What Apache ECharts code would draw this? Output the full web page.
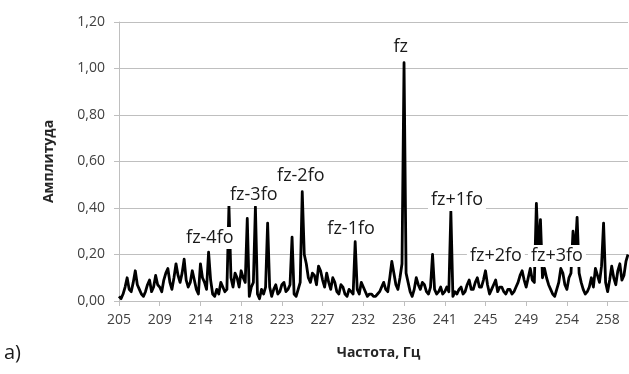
<!DOCTYPE html>
<html><head><meta charset="utf-8">
<script src="https://cdn.jsdelivr.net/npm/echarts@6/dist/echarts.min.js"></script>
<style>html,body{margin:0;padding:0;background:#fff}#c{width:629px;height:374px}</style>
</head><body><div id="c"></div>
<script>
// tick labels (every 20th sample), frequency in Hz
const tickLabels = ["205","209","214","218","223","227","232","236","241","245","249","254","258"];
// amplitude samples (251 points, ~0.22 Hz step)
const amplitude = [
 0.02,0.01,0.03,0.06,0.10,0.05,0.04,0.08,0.13,0.07,
 0.05,0.03,0.02,0.04,0.07,0.09,0.04,0.06,0.11,0.07,
 0.06,0.04,0.09,0.12,0.14,0.08,0.05,0.10,0.16,0.11,
 0.08,0.12,0.18,0.09,0.06,0.08,0.13,0.09,0.05,0.03,
 0.16,0.10,0.08,0.05,0.21,0.09,0.03,0.02,0.05,0.03,
 0.08,0.06,0.04,0.05,0.41,0.10,0.06,0.12,0.10,0.06,
 0.13,0.10,0.08,0.355,0.02,0.06,0.08,0.405,0.03,0.01,
 0.05,0.03,0.06,0.335,0.06,0.02,0.05,0.07,0.03,0.04,
 0.07,0.08,0.04,0.05,0.07,0.275,0.03,0.02,0.05,0.08,
 0.47,0.20,0.16,0.10,0.08,0.12,0.11,0.07,0.15,0.13,
 0.09,0.06,0.12,0.08,0.05,0.10,0.08,0.04,0.03,0.07,
 0.06,0.03,0.02,0.05,0.04,0.03,0.255,0.05,0.03,0.08,
 0.06,0.04,0.02,0.03,0.03,0.02,0.02,0.03,0.04,0.06,
 0.08,0.05,0.04,0.10,0.17,0.12,0.07,0.05,0.10,0.16,
 1.025,0.12,0.08,0.04,0.02,0.05,0.10,0.07,0.05,0.08,
 0.07,0.04,0.03,0.06,0.20,0.05,0.03,0.04,0.06,0.03,
 0.04,0.06,0.04,0.385,0.02,0.04,0.03,0.05,0.06,0.03,
 0.04,0.07,0.09,0.05,0.05,0.08,0.10,0.06,0.06,0.09,
 0.13,0.07,0.03,0.05,0.07,0.09,0.04,0.06,0.06,0.04,
 0.03,0.05,0.05,0.03,0.04,0.06,0.08,0.11,0.13,0.09,
 0.06,0.10,0.14,0.09,0.08,0.42,0.20,0.35,0.10,0.14,
 0.10,0.07,0.05,0.03,0.02,0.05,0.08,0.14,0.12,0.07,
 0.05,0.10,0.12,0.30,0.20,0.36,0.12,0.08,0.05,0.03,
 0.04,0.06,0.10,0.06,0.14,0.11,0.08,0.15,0.335,0.08,
 0.04,0.09,0.15,0.10,0.07,0.13,0.16,0.09,0.11,0.17,
 0.20
];
// peak annotations: text, sample position, amplitude position
const annoText = ["fz","fz-4fo","fz-3fo","fz-2fo","fz-1fo","fz+1fo","fz+2fo","fz+3fo"];
const annoX    = [138.4, 44.6, 66.2, 89.3, 114.0, 166.0, 185.1, 215.1];
const annoY    = [1.092, 0.271, 0.456, 0.538, 0.31, 0.434, 0.194, 0.194];

const chart = echarts.init(document.getElementById('c'), null, {renderer:'canvas'});
const font = '"Open Sans", "Noto Sans", sans-serif';
const fmt = v => v.toFixed(2).replace('.', ',');
const tickPos = tickLabels.map((_, k) => k * 20);
chart.setOption({
  animation: false,
  textStyle: {fontFamily: font},
  grid: {left: 119, right: 1, top: 22, bottom: 73, containLabel: false},
  xAxis: {
    type: 'value', min: 0, max: amplitude.length - 1,
    name: 'Частота, Гц', nameLocation: 'middle', nameGap: 45,
    nameTextStyle: {fontFamily: font, fontSize: 14, fontWeight: 'bold', color: '#262626', padding: [0,0,0,10]},
    axisLine: {show: true, lineStyle: {color: '#bfbfbf', width: 1}},
    axisTick: {show: true, length: 5, lineStyle: {color: '#bfbfbf'}, customValues: tickPos},
    axisLabel: {fontFamily: font, fontSize: 14, color: '#404040', margin: 12, customValues: tickPos,
      formatter: v => tickLabels[Math.round(v / 20)] || ''},
    splitLine: {show: false}
  },
  yAxis: {
    type: 'value', min: 0, max: 1.2, interval: 0.2,
    name: 'Амплитуда', nameLocation: 'middle', nameGap: 63, nameRotate: 90,
    nameTextStyle: {fontFamily: font, fontSize: 14, fontWeight: 'bold', color: '#262626'},
    axisLine: {show: true, lineStyle: {color: '#bfbfbf', width: 1}},
    axisTick: {show: true, length: 5, lineStyle: {color: '#bfbfbf'}},
    axisLabel: {fontFamily: font, fontSize: 14, color: '#404040', margin: 14, formatter: fmt},
    splitLine: {show: true, lineStyle: {color: '#bfbfbf', width: 1}}
  },
  series: [{
    type: 'line',
    data: amplitude.map((v, i) => [i, v]),
    showSymbol: false, symbol: 'none',
    lineStyle: {color: '#000', width: 2.8, join: 'round'},
    itemStyle: {color: '#000'},
    markPoint: {
      symbol: 'rect', symbolSize: 1,
      itemStyle: {color: 'rgba(0,0,0,0)'},
      label: {show: true, position: 'inside', fontFamily: font, fontSize: 18, color: '#1a1a1a',
        backgroundColor: '#fff', padding: [2, 3]},
      data: annoText.map((t, k) => ({coord: [annoX[k], annoY[k]], value: t, label: {formatter: t}}))
    }
  }],
  graphic: [{type: 'text', left: 4, top: 343, style: {text: 'a)', font: '20px ' + font, fill: '#1a1a1a'}}]
});
</script></body></html>
